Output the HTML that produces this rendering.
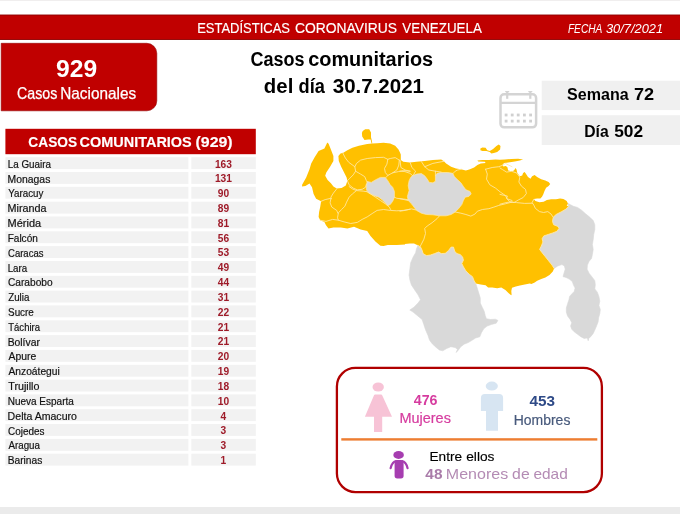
<!DOCTYPE html>
<html lang="es"><head><meta charset="utf-8"><title>Estadísticas Coronavirus Venezuela</title>
<style>
html,body{margin:0;padding:0;background:#fff;}
body{width:680px;height:514px;overflow:hidden;font-family:"Liberation Sans",sans-serif;}
svg{display:block;}
text{font-family:"Liberation Sans",sans-serif;}
.nm{fill:#111;stroke:#111;stroke-width:0.18px;}
.vl{font-size:10.2px;font-weight:bold;fill:#9e1a28;text-anchor:middle;}
</style></head><body>
<svg width="680" height="514" viewBox="0 0 680 514">
<rect x="0" y="0" width="680" height="514" fill="#ffffff"/>
<rect x="0" y="0" width="680" height="1" fill="#f0eeee"/>
<rect x="0" y="507" width="680" height="7" fill="#ebebeb"/>
<!-- header -->
<rect x="-1" y="15" width="682" height="24.5" fill="#c00000" stroke="#8e0000" stroke-width="0.9"/>
<g><text x="197.13" y="33.4" font-size="14.7" textLength="92.85" lengthAdjust="spacingAndGlyphs" fill="#ffffff" stroke="#ffffff" stroke-width="0.15">ESTADÍSTICAS</text> <text x="294.91" y="33.4" font-size="14.7" textLength="102.20" lengthAdjust="spacingAndGlyphs" fill="#ffffff" stroke="#ffffff" stroke-width="0.15">CORONAVIRUS</text> <text x="402.33" y="33.4" font-size="14.7" textLength="79.49" lengthAdjust="spacingAndGlyphs" fill="#ffffff" stroke="#ffffff" stroke-width="0.15">VENEZUELA</text></g>
<g><text x="567.90" y="33" font-size="11.9" font-style="italic" textLength="34.46" lengthAdjust="spacingAndGlyphs" fill="#ffffff">FECHA</text> <text x="605.91" y="33" font-size="11.9" font-style="italic" textLength="57.17" lengthAdjust="spacingAndGlyphs" fill="#ffffff">30/7/2021</text></g>
<!-- national box -->
<path d="M1.2 43.3H146.8a10 10 0 0 1 10 10V100.8a10 10 0 0 1 -10 10H1.2Z" fill="#c00000" stroke="#930000" stroke-width="0.6"/>
<g><text x="56.14" y="76.7" font-size="23.6" font-weight="bold" textLength="41.05" lengthAdjust="spacingAndGlyphs" fill="#ffffff">929</text></g>
<g><text x="17.09" y="99.2" font-size="15.7" textLength="40.30" lengthAdjust="spacingAndGlyphs" fill="#ffffff" stroke="#ffffff" stroke-width="0.25">Casos</text> <text x="60.23" y="99.2" font-size="15.7" textLength="75.90" lengthAdjust="spacingAndGlyphs" fill="#ffffff" stroke="#ffffff" stroke-width="0.25">Nacionales</text></g>
<!-- title -->
<g><text x="250.48" y="65.6" font-size="19.4" font-weight="bold" textLength="54.07" lengthAdjust="spacingAndGlyphs" fill="#000000">Casos</text> <text x="308.20" y="65.6" font-size="19.4" font-weight="bold" textLength="125.02" lengthAdjust="spacingAndGlyphs" fill="#000000">comunitarios</text></g>
<g><text x="263.89" y="92.6" font-size="19.4" font-weight="bold" textLength="29.44" lengthAdjust="spacingAndGlyphs" fill="#000000">del</text> <text x="298.57" y="92.6" font-size="19.4" font-weight="bold" textLength="26.34" lengthAdjust="spacingAndGlyphs" fill="#000000">día</text> <text x="332.74" y="92.6" font-size="19.4" font-weight="bold" textLength="91.25" lengthAdjust="spacingAndGlyphs" fill="#000000">30.7.2021</text></g>
<!-- week/day -->
<rect x="541.7" y="80.7" width="139" height="29.4" fill="#f0f0f0"/>
<rect x="541.7" y="115.2" width="139" height="29.8" fill="#f0f0f0"/>
<g><text x="567.12" y="100" font-size="15.8" font-weight="bold" textLength="61.57" lengthAdjust="spacingAndGlyphs" fill="#000000">Semana</text> <text x="633.93" y="100" font-size="15.8" font-weight="bold" textLength="20.19" lengthAdjust="spacingAndGlyphs" fill="#000000">72</text></g>
<g><text x="584.24" y="136.5" font-size="15.8" font-weight="bold" textLength="24.46" lengthAdjust="spacingAndGlyphs" fill="#000000">Día</text> <text x="614.18" y="136.5" font-size="15.8" font-weight="bold" textLength="28.89" lengthAdjust="spacingAndGlyphs" fill="#000000">502</text></g>
<!-- calendar icon -->
<g fill="none" stroke="#d4d4d4" stroke-width="2.5">
<rect x="500.5" y="94.3" width="35.6" height="33" rx="3.6"/>
<line x1="500.5" y1="102.9" x2="536.1" y2="102.9" stroke-width="2.2"/>
<line x1="507.2" y1="91.8" x2="507.2" y2="98.8" stroke-width="2.2"/>
<line x1="530.3" y1="91.8" x2="530.3" y2="98.8" stroke-width="2.2"/>
<line x1="505.2" y1="91.6" x2="509.2" y2="91.6" stroke-width="1.2"/>
<line x1="528.3" y1="91.6" x2="532.3" y2="91.6" stroke-width="1.2"/>
</g>
<g fill="#d0d0d0">
<rect x="504.7" y="113.6" width="2.8" height="2.8"/>
<rect x="504.7" y="119.7" width="2.8" height="2.8"/>
<rect x="510.8" y="113.6" width="2.8" height="2.8"/>
<rect x="510.8" y="119.7" width="2.8" height="2.8"/>
<rect x="516.8" y="113.6" width="2.8" height="2.8"/>
<rect x="516.8" y="119.7" width="2.8" height="2.8"/>
<rect x="523.0" y="113.6" width="2.8" height="2.8"/>
<rect x="523.0" y="119.7" width="2.8" height="2.8"/>
<rect x="529.2" y="113.6" width="2.8" height="2.8"/>
<rect x="529.2" y="119.7" width="2.8" height="2.8"/>
</g>
<!-- table -->
<rect x="5.4" y="128.8" width="250.4" height="25.4" fill="#c00000"/>
<g><text x="28.35" y="147" font-size="15.2" font-weight="bold" textLength="48.78" lengthAdjust="spacingAndGlyphs" fill="#ffffff" stroke="#ffffff" stroke-width="0.15">CASOS</text> <text x="79.62" y="147" font-size="15.2" font-weight="bold" textLength="112.14" lengthAdjust="spacingAndGlyphs" fill="#ffffff" stroke="#ffffff" stroke-width="0.15">COMUNITARIOS</text> <text x="195.50" y="147" font-size="15.2" font-weight="bold" textLength="37.19" lengthAdjust="spacingAndGlyphs" fill="#ffffff" stroke="#ffffff" stroke-width="0.15">(929)</text></g>
<rect x="5.4" y="157.2" width="183" height="11.9" fill="#f2f2f2"/><rect x="191.3" y="157.2" width="64.5" height="11.9" fill="#f2f2f2"/>
<g><text x="7.69" y="167.7" font-size="10.2" textLength="43.31" lengthAdjust="spacingAndGlyphs" class="nm">La Guaira</text></g><text x="223.4" y="167.5" class="vl">163</text>
<rect x="5.4" y="172.0" width="183" height="11.9" fill="#f2f2f2"/><rect x="191.3" y="172.0" width="64.5" height="11.9" fill="#f2f2f2"/>
<g><text x="7.64" y="182.5" font-size="10.2" textLength="42.71" lengthAdjust="spacingAndGlyphs" class="nm">Monagas</text></g><text x="223.4" y="182.3" class="vl">131</text>
<rect x="5.4" y="186.8" width="183" height="11.9" fill="#f2f2f2"/><rect x="191.3" y="186.8" width="64.5" height="11.9" fill="#f2f2f2"/>
<g><text x="8.28" y="197.3" font-size="10.2" textLength="35.14" lengthAdjust="spacingAndGlyphs" class="nm">Yaracuy</text></g><text x="223.4" y="197.2" class="vl">90</text>
<rect x="5.4" y="201.7" width="183" height="11.9" fill="#f2f2f2"/><rect x="191.3" y="201.7" width="64.5" height="11.9" fill="#f2f2f2"/>
<g><text x="7.61" y="212.2" font-size="10.2" textLength="38.97" lengthAdjust="spacingAndGlyphs" class="nm">Miranda</text></g><text x="223.4" y="212.0" class="vl">89</text>
<rect x="5.4" y="216.5" width="183" height="11.9" fill="#f2f2f2"/><rect x="191.3" y="216.5" width="64.5" height="11.9" fill="#f2f2f2"/>
<g><text x="7.60" y="227.0" font-size="10.2" textLength="33.50" lengthAdjust="spacingAndGlyphs" class="nm">Mérida</text></g><text x="223.4" y="226.8" class="vl">81</text>
<rect x="5.4" y="231.3" width="183" height="11.9" fill="#f2f2f2"/><rect x="191.3" y="231.3" width="64.5" height="11.9" fill="#f2f2f2"/>
<g><text x="7.67" y="241.8" font-size="10.2" textLength="30.17" lengthAdjust="spacingAndGlyphs" class="nm">Falcón</text></g><text x="223.4" y="241.6" class="vl">56</text>
<rect x="5.4" y="246.1" width="183" height="11.9" fill="#f2f2f2"/><rect x="191.3" y="246.1" width="64.5" height="11.9" fill="#f2f2f2"/>
<g><text x="8.02" y="256.6" font-size="10.2" textLength="35.42" lengthAdjust="spacingAndGlyphs" class="nm">Caracas</text></g><text x="223.4" y="256.4" class="vl">53</text>
<rect x="5.4" y="261.0" width="183" height="11.9" fill="#f2f2f2"/><rect x="191.3" y="261.0" width="64.5" height="11.9" fill="#f2f2f2"/>
<g><text x="7.70" y="271.5" font-size="10.2" textLength="19.49" lengthAdjust="spacingAndGlyphs" class="nm">Lara</text></g><text x="223.4" y="271.3" class="vl">49</text>
<rect x="5.4" y="275.8" width="183" height="11.9" fill="#f2f2f2"/><rect x="191.3" y="275.8" width="64.5" height="11.9" fill="#f2f2f2"/>
<g><text x="7.99" y="286.3" font-size="10.2" textLength="44.64" lengthAdjust="spacingAndGlyphs" class="nm">Carabobo</text></g><text x="223.4" y="286.1" class="vl">44</text>
<rect x="5.4" y="290.6" width="183" height="11.9" fill="#f2f2f2"/><rect x="191.3" y="290.6" width="64.5" height="11.9" fill="#f2f2f2"/>
<g><text x="8.18" y="301.1" font-size="10.2" textLength="21.19" lengthAdjust="spacingAndGlyphs" class="nm">Zulia</text></g><text x="223.4" y="300.9" class="vl">31</text>
<rect x="5.4" y="305.4" width="183" height="11.9" fill="#f2f2f2"/><rect x="191.3" y="305.4" width="64.5" height="11.9" fill="#f2f2f2"/>
<g><text x="8.06" y="315.9" font-size="10.2" textLength="25.79" lengthAdjust="spacingAndGlyphs" class="nm">Sucre</text></g><text x="223.4" y="315.8" class="vl">22</text>
<rect x="5.4" y="320.3" width="183" height="11.9" fill="#f2f2f2"/><rect x="191.3" y="320.3" width="64.5" height="11.9" fill="#f2f2f2"/>
<g><text x="8.29" y="330.8" font-size="10.2" textLength="31.71" lengthAdjust="spacingAndGlyphs" class="nm">Táchira</text></g><text x="223.4" y="330.6" class="vl">21</text>
<rect x="5.4" y="335.1" width="183" height="11.9" fill="#f2f2f2"/><rect x="191.3" y="335.1" width="64.5" height="11.9" fill="#f2f2f2"/>
<g><text x="7.65" y="345.6" font-size="10.2" textLength="32.21" lengthAdjust="spacingAndGlyphs" class="nm">Bolívar</text></g><text x="223.4" y="345.4" class="vl">21</text>
<rect x="5.4" y="349.9" width="183" height="11.9" fill="#f2f2f2"/><rect x="191.3" y="349.9" width="64.5" height="11.9" fill="#f2f2f2"/>
<g><text x="8.47" y="360.4" font-size="10.2" textLength="27.68" lengthAdjust="spacingAndGlyphs" class="nm">Apure</text></g><text x="223.4" y="360.2" class="vl">20</text>
<rect x="5.4" y="364.8" width="183" height="11.9" fill="#f2f2f2"/><rect x="191.3" y="364.8" width="64.5" height="11.9" fill="#f2f2f2"/>
<g><text x="8.47" y="375.2" font-size="10.2" textLength="51.31" lengthAdjust="spacingAndGlyphs" class="nm">Anzoátegui</text></g><text x="223.4" y="375.1" class="vl">19</text>
<rect x="5.4" y="379.6" width="183" height="11.9" fill="#f2f2f2"/><rect x="191.3" y="379.6" width="64.5" height="11.9" fill="#f2f2f2"/>
<g><text x="8.26" y="390.1" font-size="10.2" textLength="31.17" lengthAdjust="spacingAndGlyphs" class="nm">Trujillo</text></g><text x="223.4" y="389.9" class="vl">18</text>
<rect x="5.4" y="394.4" width="183" height="11.9" fill="#f2f2f2"/><rect x="191.3" y="394.4" width="64.5" height="11.9" fill="#f2f2f2"/>
<g><text x="7.67" y="404.9" font-size="10.2" textLength="66.20" lengthAdjust="spacingAndGlyphs" class="nm">Nueva Esparta</text></g><text x="223.4" y="404.7" class="vl">10</text>
<rect x="5.4" y="409.2" width="183" height="11.9" fill="#f2f2f2"/><rect x="191.3" y="409.2" width="64.5" height="11.9" fill="#f2f2f2"/>
<g><text x="7.63" y="419.7" font-size="10.2" textLength="69.31" lengthAdjust="spacingAndGlyphs" class="nm">Delta Amacuro</text></g><text x="223.4" y="419.5" class="vl">4</text>
<rect x="5.4" y="424.0" width="183" height="11.9" fill="#f2f2f2"/><rect x="191.3" y="424.0" width="64.5" height="11.9" fill="#f2f2f2"/>
<g><text x="8.00" y="434.5" font-size="10.2" textLength="36.43" lengthAdjust="spacingAndGlyphs" class="nm">Cojedes</text></g><text x="223.4" y="434.3" class="vl">3</text>
<rect x="5.4" y="438.9" width="183" height="11.9" fill="#f2f2f2"/><rect x="191.3" y="438.9" width="64.5" height="11.9" fill="#f2f2f2"/>
<g><text x="8.48" y="449.4" font-size="10.2" textLength="31.52" lengthAdjust="spacingAndGlyphs" class="nm">Aragua</text></g><text x="223.4" y="449.2" class="vl">3</text>
<rect x="5.4" y="453.7" width="183" height="11.9" fill="#f2f2f2"/><rect x="191.3" y="453.7" width="64.5" height="11.9" fill="#f2f2f2"/>
<g><text x="7.66" y="464.2" font-size="10.2" textLength="34.61" lengthAdjust="spacingAndGlyphs" class="nm">Barinas</text></g><text x="223.4" y="464.0" class="vl">1</text>
<!-- map -->
<g stroke-linejoin="round">
<path d="M418.1,245.4 420.6,247.1 422.2,250.4 423.1,253.6 426.4,255.6 430.5,255.0 434.6,253.6 438.7,252.0 441.2,253.6 445.3,253.3 448.6,250.4 451.1,247.1 453.5,247.1 454.7,251.2 456.8,253.6 460.1,254.5 462.6,256.9 463.4,260.2 461.8,263.5 463.4,266.8 465.9,270.9 469.2,274.2 472.5,276.7 474.1,280.8 475.8,283.6 480.3,298.1 480.3,303.1 482.2,307.2 484.2,311.3 485.2,315.4 486.4,318.7 490.5,319.5 495.4,319.2 497.9,320.4 496.2,323.2 491.3,324.5 487.2,326.1 483.9,328.6 481.4,332.7 479.8,336.8 475.6,338.0 472.4,340.1 468.2,342.6 464.1,344.2 460.8,346.7 458.4,350.0 456.2,352.5 457.5,349.2 455.1,347.5 450.9,346.7 446.8,348.4 442.7,350.8 439.4,350.0 435.3,346.7 432.0,343.4 429.5,340.1 427.9,335.2 425.4,329.4 423.8,324.5 422.1,319.5 417.2,315.4 413.1,312.1 409.8,310.0 413.9,307.2 418.0,303.1 420.5,299.8 418.0,294.8 414.7,289.9 411.4,284.9 409.9,280.0 409.1,275.1 409.9,268.5 410.7,262.7 413.2,256.9 415.6,252.8 416.5,248.7Z" fill="#d9d9d9" stroke="#d9d9d9" stroke-width="0.6"/>
<path d="M567.6,203.3 569.0,205.8 566.0,209.1 561.1,211.9 556.1,214.5 553.2,217.3 552.5,221.4 553.6,224.7 557.8,226.4 559.1,228.3 556.9,231.3 552.8,232.9 548.7,234.3 543.8,235.9 542.1,238.7 542.9,242.0 541.3,246.1 539.6,249.4 542.1,252.7 545.4,256.8 548.7,260.9 552.0,265.1 554.1,268.4 557.8,265.9 561.9,264.6 564.4,265.9 565.2,269.2 563.0,276.6 566.0,277.4 569.3,279.1 572.3,281.5 573.4,284.8 575.1,288.1 574.2,291.4 571.8,293.9 569.6,296.4 569.0,299.6 567.6,303.8 566.3,307.9 566.3,312.0 567.6,316.1 570.1,319.4 571.8,322.7 570.6,326.0 571.8,329.3 574.2,331.8 577.5,334.2 580.8,336.7 584.1,338.4 587.4,337.9 588.2,340.8 588.7,338.4 590.7,336.7 593.2,333.4 594.8,330.1 596.5,326.0 598.1,321.9 598.6,317.8 599.8,313.6 600.3,309.5 598.9,305.4 599.8,301.3 598.9,296.4 597.3,292.2 594.8,288.9 595.3,284.8 594.8,280.7 592.4,277.4 589.1,273.3 587.1,269.2 587.4,265.1 589.1,261.3 591.5,258.5 592.4,254.4 593.2,249.4 592.4,244.5 593.2,239.5 593.7,234.6 594.8,229.6 594.8,224.7 593.2,220.6 589.9,217.3 585.8,214.0 581.6,210.2 577.5,207.4 573.4,206.3Z" fill="#d9d9d9" stroke="#d9d9d9" stroke-width="0.6"/>
<path d="M327.3,142.5 328.6,143.8 330.9,149.4 333.4,156.0 333.4,160.9 330.1,166.7 326.3,172.5 325.2,175.8 327.6,179.9 330.9,183.2 333.4,186.5 336.7,188.6 341.6,188.1 345.8,185.6 347.4,180.7 346.6,177.4 344.1,172.5 341.2,166.7 338.8,160.9 338.4,156.0 340.5,153.5 343.3,152.7 347.4,150.2 352.4,147.8 358.9,145.8 367.2,144.1 372.1,143.6 377.1,143.2 383.6,142.8 390.2,143.6 395.2,145.8 398.5,149.4 400.1,152.7 400.8,154.4 400.8,160.1 403.3,161.8 409.9,162.6 416.5,161.8 424.7,160.9 432.9,160.1 441.2,159.6 443.6,160.9 446.1,163.4 451.1,166.7 456.0,168.4 460.9,169.2 465.9,170.5 470.0,169.2 474.1,167.5 477.4,165.1 480.7,163.4 485.6,162.9 484.8,161.8 478.2,161.4 477.4,160.6 482.4,160.1 488.9,160.1 495.5,159.6 500.0,159.8 504.9,159.4 511.5,158.9 518.1,158.8 523.1,159.4 519.8,160.6 514.8,161.4 509.9,162.2 506.6,162.7 504.1,163.1 502.5,164.7 503.3,166.4 505.8,166.0 507.4,167.2 508.2,170.5 511.5,171.3 514.0,170.5 515.6,168.0 516.5,169.6 517.3,172.9 519.8,176.2 522.2,175.4 523.1,172.9 524.7,172.1 526.4,174.6 528.0,177.1 530.5,178.7 532.1,176.2 534.6,174.9 537.1,177.1 541.2,179.2 545.3,180.4 548.6,182.0 550.2,184.1 548.6,186.1 546.1,187.8 544.5,191.1 543.2,194.4 542.0,196.8 540.4,198.5 537.1,198.5 533.8,199.0 535.4,200.9 539.5,202.3 543.6,201.8 546.9,200.1 551.1,199.3 556.0,199.3 560.1,198.5 563.4,199.0 566.7,200.9 567.9,203.4 566.7,205.9 569.0,205.8 566.0,209.1 561.1,211.9 556.1,214.5 553.2,217.3 552.5,221.4 553.6,224.7 557.8,226.4 559.1,228.3 556.9,231.3 552.8,232.9 548.7,234.3 543.8,235.9 542.1,238.7 542.9,242.0 541.3,246.1 539.6,249.4 542.1,252.7 545.4,256.8 548.7,260.9 552.0,265.1 554.1,268.4 552.8,271.6 549.5,274.9 545.4,277.4 541.3,279.1 537.2,280.7 534.7,282.4 531.4,284.0 529.8,283.5 524.8,284.5 519.9,285.6 515.8,286.5 512.0,287.8 511.3,291.1 511.6,294.7 511.2,295.2 508.7,293.2 505.4,289.9 501.3,287.4 497.2,288.2 492.2,287.4 488.1,287.4 485.6,285.3 480.7,284.6 475.8,283.6 474.1,280.8 472.5,276.7 469.2,274.2 465.9,270.9 463.4,266.8 461.8,263.5 463.4,260.2 462.6,256.9 460.1,254.5 456.8,253.6 454.7,251.2 453.5,247.1 451.1,247.1 448.6,250.4 445.3,253.3 441.2,253.6 438.7,252.0 434.6,253.6 430.5,255.0 426.4,255.6 423.1,253.6 422.2,250.4 420.6,247.1 418.1,245.4 414.0,243.4 409.9,243.4 404.9,244.1 405.1,244.4 396.8,244.9 387.8,244.9 383.6,246.1 380.4,245.8 375.4,241.6 370.5,235.9 367.2,230.9 360.6,229.6 354.0,226.8 347.4,228.5 340.8,227.6 333.4,227.6 328.5,228.5 326.0,225.2 324.4,221.9 320.2,220.2 318.6,216.9 319.1,212.0 320.2,207.1 321.1,201.3 316.1,198.8 313.6,193.9 312.0,187.3 309.5,183.5 305.4,186.1 302.1,186.5 302.1,184.8 302.1,184.8 306.2,177.4 309.5,169.2 311.2,163.4 314.5,157.6 318.6,151.1 324.4,148.6Z" fill="#ffc000"/>
<path d="M362.7,131.0 365.2,129.2 369.2,129.3 371.0,132.6 371.0,137.2 371.8,140.4 372.3,143.5 371.6,143.5 370.6,139.5 368.2,139.5 364.5,139.9 362.2,136.6 361.9,132.9Z" fill="#ffc000"/>
<path d="M480.4,148.6 482.4,147.4 485.6,147.8 487.3,150.2 489.8,151.1 493.1,149.1 496.4,146.1 498.8,144.5 500.5,146.1 500.1,149.4 497.2,151.9 493.9,153.0 491.4,153.5 489.8,151.9 486.5,151.1 482.4,151.1 480.4,150.2Z" fill="#ffc000"/>
<path d="M367.2,181.5 371.3,182.4 375.4,179.9 380.4,177.4 385.3,177.4 387.8,180.7 390.2,184.8 392.7,187.3 394.4,191.4 394.4,197.2 392.7,201.3 390.2,204.6 387.8,205.4 385.3,202.9 382.0,199.6 378.7,197.2 373.8,195.5 368.8,193.1 366.4,189.8 366.4,184.8Z" fill="#d9d9d9" stroke="#ffe9a8" stroke-width="0.7"/>
<path d="M412.4,175.8 416.5,174.1 421.4,173.6 424.7,175.8 427.2,179.1 429.3,182.4 432.9,182.8 435.4,181.2 435.4,175.8 437.1,173.3 441.2,172.5 447.8,172.5 452.7,173.3 454.4,176.6 456.8,179.1 460.9,182.8 463.4,186.5 465.9,189.8 470.0,191.4 471.2,193.9 468.8,196.4 465.1,197.2 463.4,200.5 461.8,204.6 458.5,208.7 455.2,212.0 451.1,214.5 446.1,215.8 439.5,215.8 432.9,214.8 426.4,214.5 421.4,213.2 416.5,210.4 414.0,207.1 411.5,203.8 408.2,200.5 407.4,196.4 409.1,190.6 408.2,185.6 409.1,180.7 410.7,177.4Z" fill="#d9d9d9" stroke="#ffe9a8" stroke-width="0.7"/>
<g fill="none" stroke="#ffe9a8" stroke-width="0.85" stroke-linecap="round">
<path d="M342.8,153.0 345.4,158.0 348.7,162.3 354.8,166.7 355.6,171.2 353.2,174.9 349.9,178.2 347.4,180.7"/>
<path d="M354.8,166.7 356.5,163.4 360.6,160.1 367.2,158.5 375.4,157.6 383.6,157.3 387.8,159.3 390.2,158.5 395.2,157.6 399.3,160.1 400.4,160.9"/>
<path d="M355.6,171.2 360.6,174.1 364.7,176.6 366.4,180.7 367.2,182.0"/>
<path d="M347.4,180.7 349.1,184.8 353.2,188.1 357.3,189.8 362.2,189.3 365.5,187.3 366.4,184.3"/>
<path d="M387.8,159.3 386.9,164.2 384.5,168.4 385.3,172.5 387.8,175.4 392.7,172.8 396.8,170.0 398.8,165.1 399.3,160.1"/>
<path d="M387.8,175.4 386.1,177.4"/>
<path d="M392.7,172.8 398.5,171.6 403.4,170.5 410.0,171.2"/>
<path d="M400.1,160.9 400.9,167.5 405.1,170.0 410.0,171.2"/>
<path d="M349.1,186.5 352.4,188.9 356.5,190.6 363.1,191.1 366.8,191.7"/>
<path d="M336.7,188.9 333.4,193.1 330.9,197.2 331.4,198.8"/>
<path d="M356.5,190.6 352.4,193.9 349.1,197.2 346.6,202.1 344.9,206.2 341.6,209.5 338.4,212.8 337.5,217.8 338.4,220.2"/>
<path d="M321.1,201.3 325.2,199.6 330.9,198.3 330.1,202.9 331.8,207.1 336.7,210.4 337.9,213.2"/>
<path d="M320.2,220.2 326.0,221.4 332.6,219.4 338.4,220.2 344.1,221.9 350.7,223.5 357.3,222.4 362.2,219.4 367.2,216.9 372.1,213.6 377.1,210.4 383.6,209.5 390.2,210.4 396.8,210.8 403.4,210.4 410.0,209.2"/>
<path d="M366.8,191.7 370.5,193.9 375.4,197.2 380.4,200.5 385.3,203.8 389.4,207.1 390.6,209.5"/>
<path d="M394.4,197.2 396.8,198.3 403.4,199.0 410.0,200.0"/>
<path d="M410.2,162.6 411.9,167.5 415.6,171.2 413.2,175.4"/>
<path d="M400.0,171.2 404.9,171.6 409.9,173.3 412.8,175.8"/>
<path d="M421.4,161.6 424.7,166.7 428.8,170.0 435.4,171.2 441.2,172.1"/>
<path d="M435.4,171.2 435.4,175.8"/>
<path d="M424.7,166.7 432.9,163.4 441.2,161.8 444.1,161.3"/>
<path d="M453.0,173.5 455.2,171.2 457.6,170.0 461.3,169.2"/>
<path d="M485.6,169.2 492.2,167.5 498.8,166.7 502.9,165.1 505.4,163.4 508.7,165.1 512.0,166.7"/>
<path d="M485.6,169.2 487.3,174.1 486.5,179.1 489.8,184.8 495.5,188.1 500.5,192.2 505.4,195.5 507.1,198.8 512.0,200.5"/>
<path d="M500.0,168.0 502.5,169.6 506.6,172.1 511.5,171.3 516.5,172.9 519.8,177.1 518.9,182.0 521.4,186.1 525.5,189.4 526.4,193.5 523.1,197.6 518.1,200.1 514.0,202.6 509.9,201.8 506.6,198.5 507.4,196.0 503.3,195.2 500.0,194.4"/>
<path d="M533.8,199.3 532.1,202.6 533.8,205.1 535.4,208.4 539.5,211.6 543.6,212.5 547.8,211.6 551.1,214.1 552.7,216.6"/>
<path d="M500.0,204.2 504.9,202.9 509.9,201.9 516.5,202.6 524.7,203.4 532.3,203.2"/>
<path d="M455.2,212.0 460.9,213.2 465.9,214.5 470.8,216.1 474.9,214.1 477.4,211.2 482.4,209.5 488.9,208.7 493.9,207.1 498.8,205.4 505.4,203.8 512.0,202.1"/>
<path d="M439.5,215.8 437.1,218.6 432.1,222.7 427.2,226.0 424.7,228.5 425.5,233.4 423.9,239.2 421.4,244.1 419.4,247.7"/>
<path d="M400.0,211.2 404.9,210.4 411.5,208.9 415.6,209.9"/>
<path d="M400.0,198.8 404.1,199.6 407.9,200.5"/>
<path d="M418.1,245.4 420.6,247.1 422.2,250.4 423.1,253.6 426.4,255.6 430.5,255.0 434.6,253.6 438.7,252.0 441.2,253.6 445.3,253.3 448.6,250.4 451.1,247.1 453.5,247.1 454.7,251.2 456.8,253.6 460.1,254.5 462.6,256.9 463.4,260.2 461.8,263.5 463.4,266.8 465.9,270.9 469.2,274.2 472.5,276.7 474.1,280.8 475.8,283.6"/>
<path d="M569.0,205.8 566.0,209.1 561.1,211.9 556.1,214.5 553.2,217.3 552.5,221.4 553.6,224.7 557.8,226.4 559.1,228.3 556.9,231.3 552.8,232.9 548.7,234.3 543.8,235.9 542.1,238.7 542.9,242.0 541.3,246.1 539.6,249.4 542.1,252.7 545.4,256.8 548.7,260.9 552.0,265.1 554.1,268.4"/>
</g>
</g>
<!-- gender box -->
<rect x="336.9" y="367.9" width="265" height="124.2" rx="18.5" ry="18.5" fill="#ffffff" stroke="#b00000" stroke-width="2.3"/>
<rect x="341.3" y="438.2" width="256" height="2.4" fill="#ed7d31"/>
<g fill="#f7c3d6">
<ellipse cx="378.2" cy="387" rx="5.7" ry="4.5"/>
<path d="M375.2 394.6H381a1.4 1.4 0 0 1 1.3 0.9L392 416.8H382.2V432H374V416.8H364.9L373.9 395.5a1.4 1.4 0 0 1 1.3 -0.9Z"/>
</g>
<g fill="#d7e5f2">
<ellipse cx="491.8" cy="386.1" rx="6.1" ry="4.5"/>
<path d="M484.9 394H499.1a4 4 0 0 1 4 4V411.1H498V430.7H486V411.1H480.9V398a4 4 0 0 1 4 -4Z"/>
</g>
<g fill="#a63db0">
<ellipse cx="398.6" cy="455" rx="5.3" ry="3.9"/>
<rect x="394.6" y="460" width="9" height="18.4" rx="2.6"/>
<path d="M396 461.2Q392.4 461.6 390.6 468.2M402.2 461.2Q405.8 461.6 407.6 468.2" fill="none" stroke="#a63db0" stroke-width="2.2" stroke-linecap="round"/>
</g>
<g><text x="413.79" y="405" font-size="14.2" font-weight="bold" textLength="23.73" lengthAdjust="spacingAndGlyphs" fill="#d63c9f">476</text></g>
<g><text x="399.41" y="422.6" font-size="13.8" textLength="51.49" lengthAdjust="spacingAndGlyphs" fill="#d63c9f" stroke="#d63c9f" stroke-width="0.2">Mujeres</text></g>
<g><text x="529.47" y="405.8" font-size="14.2" font-weight="bold" textLength="25.48" lengthAdjust="spacingAndGlyphs" fill="#2e4a87">453</text></g>
<g><text x="513.75" y="425" font-size="13.8" textLength="56.63" lengthAdjust="spacingAndGlyphs" fill="#485a7c" stroke="#485a7c" stroke-width="0.2">Hombres</text></g>
<g><text x="429.47" y="461" font-size="13.6" textLength="32.61" lengthAdjust="spacingAndGlyphs" fill="#000000" stroke="#000" stroke-width="0.15">Entre</text> <text x="466.22" y="461" font-size="13.6" textLength="28.25" lengthAdjust="spacingAndGlyphs" fill="#000000" stroke="#000" stroke-width="0.15">ellos</text></g>
<g><text x="425.37" y="479.2" font-size="14.6" font-weight="bold" textLength="17.13" lengthAdjust="spacingAndGlyphs" fill="#a97ba9">48</text> <text x="445.88" y="479.2" font-size="14.6" textLength="62.29" lengthAdjust="spacingAndGlyphs" fill="#b48bb4">Menores</text> <text x="512.13" y="479.2" font-size="14.6" textLength="17.58" lengthAdjust="spacingAndGlyphs" fill="#b48bb4">de</text> <text x="533.44" y="479.2" font-size="14.6" textLength="34.36" lengthAdjust="spacingAndGlyphs" fill="#b48bb4">edad</text></g>
</svg>
</body></html>
